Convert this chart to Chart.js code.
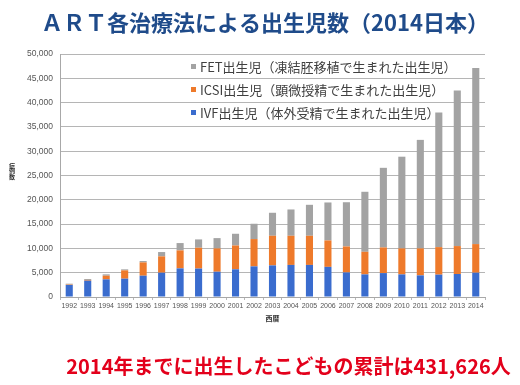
<!DOCTYPE html>
<html>
<head>
<meta charset="utf-8">
<script src="https://cdn.jsdelivr.net/npm/chart.js@4.4.1/dist/chart.umd.min.js"></script>
<style>
html,body{margin:0;padding:0;background:#fff;}
#wrap{position:relative;width:520px;height:385px;}
#c{position:absolute;left:0;top:0;}
#legend{position:absolute;left:191px;top:55px;font-family:"Noto Sans CJK JP","Noto Sans",sans-serif;font-size:13px;color:#404040;}
.row{height:23px;display:flex;align-items:center;white-space:nowrap;}
.box{width:5px;height:5px;margin-right:4px;flex:none;}
</style>
</head>
<body>
<div id="wrap">
<canvas id="c" width="520" height="385"></canvas>
<div id="legend"></div>
</div>
<script>
// ---- data ----
const years = ["1992","1993","1994","1995","1996","1997","1998","1999","2000","2001","2002","2003","2004","2005","2006","2007","2008","2009","2010","2011","2012","2013","2014"];
const ivf  = [2470,3360,3630,3770,4380,5000,5890,5850,5200,5700,6300,6500,6600,6600,6200,5050,4650,4920,4650,4450,4600,4730,5000];
const icsi = [80,150,750,1710,2740,3360,3700,4290,4800,4900,5620,6100,6000,6000,5440,5350,4650,5280,5350,5550,5670,5750,5890];
const fet  = [190,190,280,210,280,890,1510,1710,2120,2410,3150,4730,5410,6370,7810,9100,12350,16380,18870,22330,27680,31990,36230];
const seriesLabels = ["IVF出生児（体外受精で生まれた出生児）","ICSI出生児（顕微授精で生まれた出生児）","FET出生児（凍結胚移植で生まれた出生児）"];
const seriesColors = ["#3a6cce","#ee7a2b","#a3a3a3"];
const titleText = "ＡＲＴ各治療法による出生児数（2014日本）";
const noteText = "2014年までに出生したこどもの累計は431,626人";
const yAxisTitle = ["症","例","数"];
const xAxisTitle = "西暦";
const yMax = 50000, yStep = 5000;

const sideTexts = {
  id: 'sideTexts',
  afterDraw(chart) {
    const ctx = chart.ctx;
    const ca = chart.chartArea;
    ctx.save();
    // y-axis title, stacked vertically
    ctx.fillStyle = '#333';
    ctx.font = 'bold 6px "Noto Sans CJK JP"';
    ctx.textAlign = 'center';
    ctx.textBaseline = 'middle';
    const cy = (ca.top + ca.bottom) / 2 - 4.5;
    yAxisTitle.forEach((ch, i) => ctx.fillText(ch, 12, cy + (i - 1) * 5.6));
    // bottom note
    ctx.fillStyle = '#e3001b';
    ctx.font = 'bold 20px "Noto Sans CJK JP"';
    ctx.fillText(noteText, 288.5, 366);
    ctx.restore();
  }
};

const datasets = [ivf, icsi, fet].map((d, i) => ({
  label: seriesLabels[i],
  data: d,
  backgroundColor: seriesColors[i],
  borderWidth: 0,
  barPercentage: 0.48,
  categoryPercentage: 0.8
}));

const chart = new Chart(document.getElementById('c'), {
  type: 'bar',
  data: { labels: years, datasets },
  plugins: [sideTexts],
  options: {
    responsive: false,
    animation: false,
    layout: { padding: { left: 10, right: 0, top: 0, bottom: 0 } },
    plugins: {
      legend: { display: false },
      tooltip: { enabled: false },
      title: {
        display: true,
        text: titleText,
        color: '#1f4b8a',
        font: { family: '"Noto Sans CJK JP"', size: 22, weight: 'bold' },
        padding: { top: 9, bottom: 18.6 }
      }
    },
    scales: {
      x: {
        stacked: true,
        afterFit(s) { s.height = 88; },
        grid: { display: true, drawOnChartArea: false, drawTicks: true, tickLength: 3, color: '#b8b8b8', offset: true },
        border: { display: true, color: '#a8a8a8' },
        ticks: { color: '#555', font: { family: '"Liberation Sans"', size: 7 }, padding: 2, maxRotation: 0, autoSkip: false },
        title: { display: true, text: xAxisTitle, color: '#333', font: { family: '"Noto Sans CJK JP"', size: 7, weight: 'bold' }, padding: { top: 0, bottom: 62.8 } }
      },
      y: {
        stacked: true,
        min: 0, max: yMax,
        afterFit(s) { s.width = 50; },
        grid: { color: '#b5b5b5', lineWidth: 1, drawTicks: false },
        border: { display: true, color: '#a8a8a8' },
        ticks: {
          stepSize: yStep,
          color: '#555',
          padding: 7,
          font: { family: '"Liberation Sans"', size: 8.5 },
          callback: v => v.toLocaleString('en-US')
        }
      },
      r: {
        position: 'right',
        display: true,
        afterFit(s) { s.width = 35; },
        grid: { display: false },
        border: { display: false },
        ticks: { display: false }
      }
    }
  }
});

// HTML legend (reverse order: FET, ICSI, IVF)
const lg = document.getElementById('legend');
for (let i = seriesLabels.length - 1; i >= 0; i--) {
  const row = document.createElement('div');
  row.className = 'row';
  const b = document.createElement('span');
  b.className = 'box';
  b.style.background = seriesColors[i];
  const t = document.createElement('span');
  t.textContent = seriesLabels[i];
  row.appendChild(b); row.appendChild(t);
  lg.appendChild(row);
}
</script>
</body>
</html>
